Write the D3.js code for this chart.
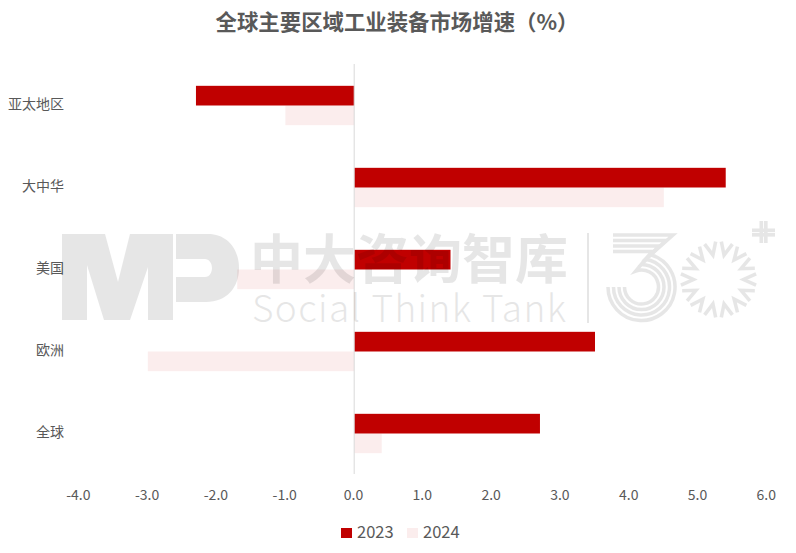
<!DOCTYPE html>
<html><head><meta charset="utf-8">
<script src="https://cdn.jsdelivr.net/npm/d3@7"></script>
<style>html,body{margin:0;background:#fff}svg{display:block}text{font-family:"Noto Sans CJK SC","Noto Sans",sans-serif}</style>
</head><body><script>
const categories=["亚太地区","大中华","美国","欧洲","全球"];
const values2023=[-2.3,5.4,1.4,3.5,2.7];
const values2024=[-1.0,4.5,-1.7,-3.0,0.4];
const seriesNames=["2023","2024"];
const tickValues=[-4,-3,-2,-1,0,1,2,3,4,5,6];
const colors=["#C00000","#FBEDED"];
const title="全球主要区域工业装备市场增速（%）";

const W=796,H=553;
const svg=d3.select("body").append("svg").attr("width",W).attr("height",H);
const x=d3.scaleLinear().domain([-4,6]).range([79,767]);
const y=d3.scaleBand().domain(categories).range([64.5,474.5]).paddingInner(0.52).paddingOuter(0.26);
const y2=d3.scaleBand().domain(seriesNames).range([0,y.bandwidth()]);

svg.append("text").attr("x",397).attr("y",29.5).attr("text-anchor","middle")
 .attr("font-size",21.4).attr("font-weight",700).attr("fill","#595959").text(title);

[values2024,values2023].forEach((vals,i)=>{
 const name=i?seriesNames[0]:seriesNames[1], c=i?colors[0]:colors[1];
 svg.append("g").selectAll("rect").data(vals).join("rect")
  .attr("x",d=>x(Math.min(0,d))).attr("width",d=>Math.abs(x(d)-x(0)))
  .attr("y",(d,j)=>y(categories[j])+y2(name)).attr("height",y2.bandwidth()).attr("fill",c);
});
svg.append("line").attr("x1",x(0)).attr("x2",x(0)).attr("y1",64).attr("y2",474).attr("stroke","#D9D9D9");

const xAxis=d3.axisBottom(x).tickValues(tickValues).tickFormat(d3.format(".1f")).tickSize(0);
const gx=svg.append("g").attr("transform","translate(-1.2,484)").call(xAxis);
gx.select(".domain").remove();
gx.selectAll("text").attr("font-size",14).attr("fill","#595959").attr("dy","0.9em").text(d=>d3.format(".1f")(d).replace("−","-"));

const yAxis=d3.axisLeft(y).tickSize(0);
const gy=svg.append("g").attr("transform","translate(70,-0.7)").call(yAxis);
gy.select(".domain").remove();
gy.selectAll("text").attr("font-size",14).attr("fill","#595959").attr("x",-6);

const leg=svg.append("g");
[[341,seriesNames[0],colors[0]],[407,seriesNames[1],colors[1]]].forEach(([lx,n,c])=>{
 leg.append("rect").attr("x",lx).attr("y",528).attr("width",11).attr("height",10).attr("fill",c);
 leg.append("text").attr("x",lx+16).attr("y",538).attr("font-size",16.5).attr("fill","#595959").text(n);
});

// watermark, drawn over the chart
const wm=svg.append("g").attr("opacity",0.095).attr("fill","#000");
wm.append("path").attr("d","M62 234H105L118 282L130 234H173V320H148V267L130 320H104L87 265V320H62Z");
wm.append("path").attr("d","M176 234H208C228 234 239 250 239 268C239 288 226 302 206 302H176V277H205C210 277 212 272 212 268C212 263 209 259 205 259H176Z");
wm.append("text").attr("x",250).attr("y",279).attr("font-size",53).attr("font-weight",700).text("中大咨询智库");
wm.append("text").attr("x",252).attr("y",322).attr("font-size",37).attr("font-weight",300).attr("textLength",314).text("Social Think Tank");
wm.append("rect").attr("x",587).attr("y",233).attr("width",2).attr("height",90);

const g3=wm.append("g").attr("fill","none").attr("stroke","#000").attr("stroke-width",3.5);
const cx3=641.5,cy3=287;
[[33.5,16],[28,8],[22.5,0],[17,-20]].forEach(([r,deg],k)=>{
 const a=deg*Math.PI/180, sx=cx3+r*Math.sin(a), sy=cy3-r*Math.cos(a);
 const hy=235+k*5.5, hx=673-k*7;
 g3.append("path").attr("d",`M613 ${hy}H${hx}L${sx} ${sy}A${r} ${r} 0 1 1 ${cx3-r} ${cy3}`);
});
const star=wm.append("g").attr("fill","none").attr("stroke","#000").attr("stroke-width",3.5).attr("stroke-linejoin","miter").attr("transform","translate(718.5,279.5)");
d3.range(14).forEach(i=>{
 const a=i*(360/14)*Math.PI/180, p=(r,da)=>[r*Math.cos(a+da),r*Math.sin(a+da)];
 star.append("path").attr("d",d3.line()([p(38,-0.15),p(25,0),p(38,0.15)]));
});
const plus=wm.append("g");
[[759.5,221,3.6,22],[764,221,3.6,22],[752,228.5,23,3.6],[752,233,23,3.6]].forEach(([a,b,w,h])=>{
 plus.append("rect").attr("x",a).attr("y",b).attr("width",w).attr("height",h);
});
</script></body></html>
